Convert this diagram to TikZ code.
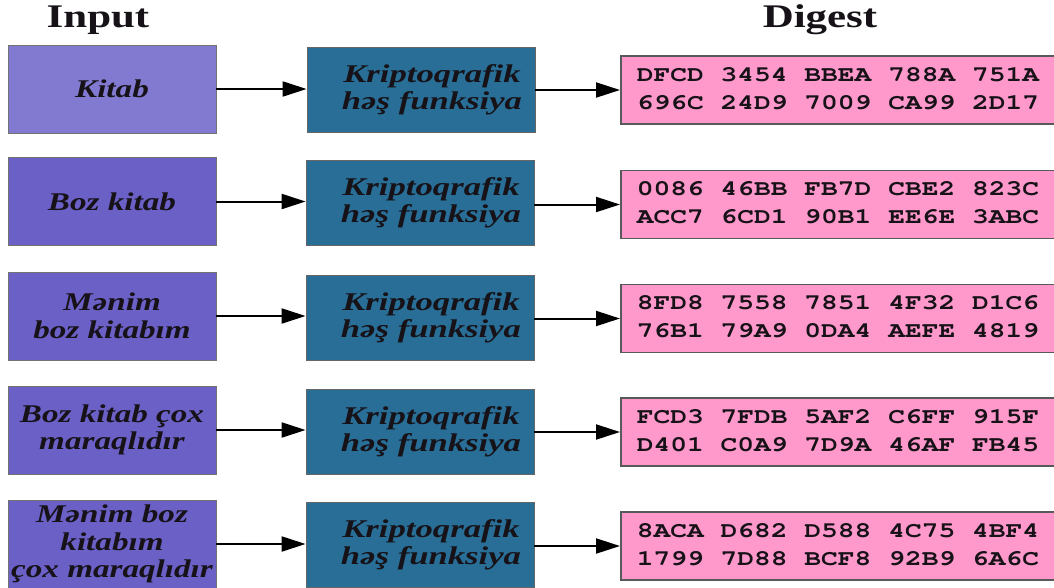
\documentclass[tikz,border=0pt]{standalone}
\usepackage{fontspec}
\setmainfont{Liberation Serif}
\newfontfamily\serw[FakeStretch=1.3]{Liberation Serif}
\newfontfamily\serh[FakeStretch=1.36]{Liberation Serif}
\usetikzlibrary{arrows.meta}
\definecolor{inA}{RGB}{130,122,208}
\definecolor{inB}{RGB}{106,96,198}
\definecolor{hashc}{RGB}{40,110,150}
\definecolor{digc}{RGB}{255,153,204}
\definecolor{txt}{RGB}{22,18,24}
\newcommand{\courb}{\fontencoding{T1}\fontfamily{pcr}\fontseries{b}\fontshape{n}\fontsize{22}{26}\selectfont}
\newcommand{\hexlines}[2]{\scalebox{1.27}[1]{\courb\begin{tabular}{@{}l@{}}#1\\[2pt]#2\end{tabular}}\hspace*{30pt}}
\newcommand{\hs}{\hspace*{22pt}}
\tikzset{
  inbox/.style={draw=black!55, line width=0.8pt, fill=inB, minimum width=208pt, minimum height=88pt, inner sep=0pt, align=center, text=txt, font={\serw\bfseries\itshape\fontsize{25.5}{27.5}\selectfont}},
  hashbox/.style={draw=black!60, line width=0.8pt, fill=hashc, minimum width=228pt, minimum height=85pt, inner sep=0pt, align=center, text=txt, font={\serh\bfseries\itshape\fontsize{25.5}{27}\selectfont}},
  digbox/.style={draw=black!65, line width=1.6pt, fill=digc, minimum height=68pt, inner xsep=16pt, inner ysep=0pt, anchor=west, text=txt},
  ttl/.style={text=txt, font={\serw\bfseries\fontsize{33}{36}\selectfont}},
  arr/.style={line width=2pt, -{Triangle[length=24pt,width=15pt]}}
}
\begin{document}
\begin{tikzpicture}[x=1pt,y=-1pt]
\useasboundingbox (0,0) rectangle (1054,587);
\clip (0,0) rectangle (1054,587);
\fill[white] (0,0) rectangle (1054,587);
\node[ttl] (tin) at (98,20) {Input};
\node[ttl] (tdg) at (820,20) {Digest};
% row 1
\node[inbox, fill=inA] (in1) at (112,89) {Kitab};
\node[hashbox] (h1) at (421,89.5) {\hs Kriptoqrafik\\\hs həş funksiya};
\node[digbox] (d1) at (620,90) {\hexlines{DFCD 3454 BBEA 788A 751A}{696C 24D9 7009 CA99 2D17}};
% row 2
\node[inbox] (in2) at (112,201.5) {Boz kitab};
\node[hashbox] (h2) at (420,203) {\hs Kriptoqrafik\\\hs həş funksiya};
\node[digbox] (d2) at (620,204.5) {\hexlines{0086 46BB FB7D CBE2 823C}{ACC7 6CD1 90B1 EE6E 3ABC}};
% row 3
\node[inbox] (in3) at (112,316) {Mənim\\boz kitabım};
\node[hashbox] (h3) at (420,318) {\hs Kriptoqrafik\\\hs həş funksiya};
\node[digbox] (d3) at (620,318.5) {\hexlines{8FD8 7558 7851 4F32 D1C6}{76B1 79A9 0DA4 AEFE 4819}};
% row 4
\node[inbox] (in4) at (112,430) {Boz kitab çox\\maraqlıdır};
\node[hashbox] (h4) at (420,431.5) {\hs Kriptoqrafik\\\hs həş funksiya};
\node[digbox] (d4) at (620,432) {\hexlines{FCD3 7FDB 5AF2 C6FF 915F}{D401 C0A9 7D9A 46AF FB45}};
% row 5
\node[inbox] (in5) at (112,544) {Mənim boz\\kitabım\\çox maraqlıdır};
\node[hashbox] (h5) at (420,545) {\hs Kriptoqrafik\\\hs həş funksiya};
\node[digbox] (d5) at (620,546) {\hexlines{8ACA D682 D588 4C75 4BF4}{1799 7D88 BCF8 92B9 6A6C}};
% arrows
\foreach \i in {1,...,5}{
  \draw[arr] (in\i.east) -- (in\i.east -| h\i.west);
  \draw[arr] (h\i.east |- d\i.west) -- (d\i.west);
}
\end{tikzpicture}
\end{document}
